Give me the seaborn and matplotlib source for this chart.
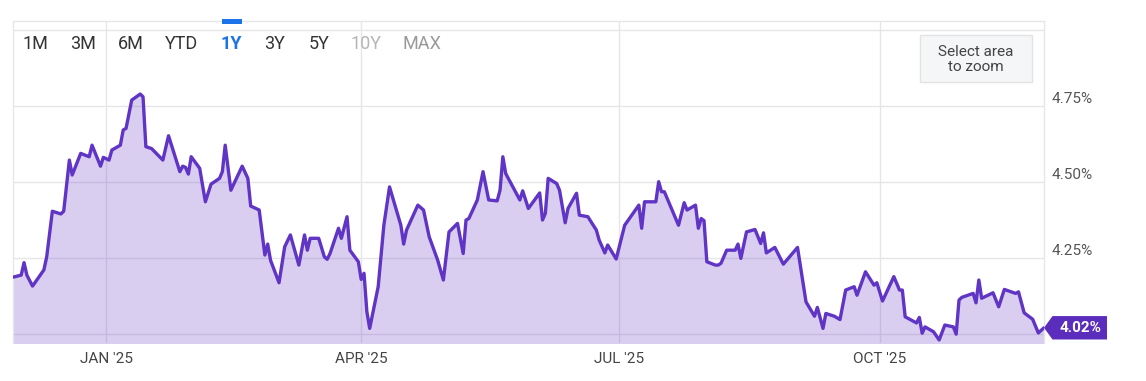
#chart of 10 year yield, 1Y view

import seaborn as sns
from matplotlib import pyplot as plt
import matplotlib.dates as mdates
from matplotlib.patches import Rectangle, FancyBboxPatch, Polygon
from matplotlib.transforms import ScaledTranslation
import pandas as pd

#values
dates = [
    "2024-11-29", "2024-12-02", "2024-12-03", "2024-12-04", "2024-12-06", "2024-12-10",
    "2024-12-11", "2024-12-13", "2024-12-16", "2024-12-17", "2024-12-19", "2024-12-20",
    "2024-12-23", "2024-12-26", "2024-12-27", "2024-12-30", "2024-12-31", "2025-01-02",
    "2025-01-03", "2025-01-06", "2025-01-07", "2025-01-08", "2025-01-10", "2025-01-13",
    "2025-01-14", "2025-01-15", "2025-01-17", "2025-01-21", "2025-01-23", "2025-01-27",
    "2025-01-28", "2025-01-29", "2025-01-30", "2025-01-31", "2025-02-03", "2025-02-05",
    "2025-02-07", "2025-02-10", "2025-02-11", "2025-02-12", "2025-02-14", "2025-02-18",
    "2025-02-20", "2025-02-21", "2025-02-24", "2025-02-26", "2025-02-27", "2025-02-28",
    "2025-03-03", "2025-03-05", "2025-03-07", "2025-03-10", "2025-03-12", "2025-03-13",
    "2025-03-14", "2025-03-17", "2025-03-19", "2025-03-20", "2025-03-21", "2025-03-24",
    "2025-03-25", "2025-03-27", "2025-03-28", "2025-03-31", "2025-04-01", "2025-04-02",
    "2025-04-03", "2025-04-04", "2025-04-07", "2025-04-09", "2025-04-11", "2025-04-15",
    "2025-04-16", "2025-04-17", "2025-04-21", "2025-04-23", "2025-04-25", "2025-04-28",
    "2025-04-30", "2025-05-02", "2025-05-05", "2025-05-07", "2025-05-08", "2025-05-09",
    "2025-05-12", "2025-05-14", "2025-05-16", "2025-05-19", "2025-05-20", "2025-05-21",
    "2025-05-22", "2025-05-27", "2025-05-28", "2025-05-30", "2025-06-03", "2025-06-04",
    "2025-06-05", "2025-06-06", "2025-06-09", "2025-06-10", "2025-06-12", "2025-06-13",
    "2025-06-16", "2025-06-17", "2025-06-20", "2025-06-23", "2025-06-24", "2025-06-26",
    "2025-06-27", "2025-06-30", "2025-07-03", "2025-07-08", "2025-07-09", "2025-07-10",
    "2025-07-14", "2025-07-15", "2025-07-16", "2025-07-17", "2025-07-22", "2025-07-24",
    "2025-07-25", "2025-07-28", "2025-07-29", "2025-07-30", "2025-07-31", "2025-08-01",
    "2025-08-04", "2025-08-05", "2025-08-06", "2025-08-08", "2025-08-11", "2025-08-12",
    "2025-08-13", "2025-08-15", "2025-08-18", "2025-08-20", "2025-08-21", "2025-08-22",
    "2025-08-25", "2025-08-28", "2025-09-02", "2025-09-05", "2025-09-08", "2025-09-09",
    "2025-09-11", "2025-09-12", "2025-09-15", "2025-09-17", "2025-09-19", "2025-09-22",
    "2025-09-23", "2025-09-26", "2025-09-29", "2025-09-30", "2025-10-02", "2025-10-06",
    "2025-10-08", "2025-10-09", "2025-10-10", "2025-10-14", "2025-10-15", "2025-10-16",
    "2025-10-17", "2025-10-20", "2025-10-22", "2025-10-24", "2025-10-27", "2025-10-28",
    "2025-10-29", "2025-10-30", "2025-11-03", "2025-11-04", "2025-11-05", "2025-11-06",
    "2025-11-10", "2025-11-12", "2025-11-14", "2025-11-18", "2025-11-19", "2025-11-21",
    "2025-11-24", "2025-11-26", "2025-11-28",
]
yields = [
    4.186, 4.193, 4.234, 4.193, 4.157, 4.210,
    4.253, 4.403, 4.394, 4.403, 4.571, 4.522,
    4.593, 4.582, 4.620, 4.551, 4.580, 4.571,
    4.604, 4.620, 4.670, 4.675, 4.768, 4.788,
    4.779, 4.615, 4.609, 4.571, 4.651, 4.533,
    4.551, 4.547, 4.525, 4.582, 4.544, 4.434,
    4.492, 4.511, 4.533, 4.620, 4.472, 4.551,
    4.511, 4.420, 4.407, 4.259, 4.295, 4.242,
    4.168, 4.286, 4.325, 4.226, 4.325, 4.275,
    4.314, 4.314, 4.253, 4.245, 4.264, 4.347,
    4.314, 4.385, 4.275, 4.237, 4.179, 4.199,
    4.073, 4.018, 4.155, 4.357, 4.483, 4.357,
    4.295, 4.341, 4.423, 4.407, 4.319, 4.242,
    4.177, 4.335, 4.363, 4.264, 4.374, 4.379,
    4.440, 4.533, 4.440, 4.437, 4.472, 4.582,
    4.527, 4.440, 4.470, 4.412, 4.463, 4.374,
    4.396, 4.511, 4.494, 4.472, 4.365, 4.412,
    4.462, 4.390, 4.385, 4.341, 4.308, 4.266,
    4.292, 4.246, 4.357, 4.423, 4.347, 4.434,
    4.434, 4.500, 4.467, 4.467, 4.357, 4.431,
    4.407, 4.423, 4.347, 4.379, 4.372, 4.237,
    4.226, 4.226, 4.232, 4.275, 4.275, 4.295,
    4.248, 4.335, 4.343, 4.297, 4.332, 4.266,
    4.284, 4.229, 4.284, 4.105, 4.058, 4.087,
    4.018, 4.067, 4.058, 4.047, 4.144, 4.155,
    4.127, 4.204, 4.160, 4.168, 4.108, 4.188,
    4.144, 4.144, 4.056, 4.036, 4.054, 4.002,
    4.023, 4.007, 3.980, 4.029, 4.023, 3.999,
    4.111, 4.120, 4.133, 4.102, 4.177, 4.117,
    4.135, 4.089, 4.146, 4.133, 4.138, 4.069,
    4.048, 4.003, 4.020,
]

ranges = ["1M", "3M", "6M", "YTD", "1Y", "3Y", "5Y", "10Y", "MAX"]
range_x = [35, 83, 131, 182, 231.5, 275, 319, 366, 422]  # button centres, px
range_colors = ["#333333"] * 7 + ["#b5b5b5", "#9a9a9a"]
y_ticks = [4.00, 4.25, 4.50, 4.75, 5.00]
y_labels = ["", "4.25%", "4.50%", "4.75%", ""]
x_ticks = ["2025-01-01", "2025-04-01", "2025-07-01", "2025-10-01"]
x_labels = ["JAN '25", "APR '25", "JUL '25", "OCT '25"]
last_label = "4.02%"

df = pd.DataFrame({"date": pd.to_datetime(dates), "yield": yields})

LINE = "#6034c4"
GRID = "#e6e6e6"
W, H = 1146, 381

sns.set_style("white")
plt.rcParams["font.family"] = ["Roboto", "DejaVu Sans"]

fig = plt.figure(figsize=(W / 100, H / 100), dpi=100)
ax = fig.add_axes([12.7 / W, 1 - 342.7 / H, (1044 - 12.7) / W, (342.7 - 20.7) / H])

#area under the line, then the line itself
ax.fill_between(df["date"], df["yield"], 3.9, color=LINE, alpha=0.24, lw=0, zorder=2)
sns.lineplot(data=df, x="date", y="yield", ax=ax, color=LINE, linewidth=2.4, zorder=3)

ax.set_xlim(df["date"].min(), df["date"].max())
ax.set_ylim(3.971, 5.029)
ax.set_xlabel("")
ax.set_ylabel("")

ax.set_yticks(y_ticks)
ax.set_yticklabels(y_labels)
ax.yaxis.tick_right()
ax.tick_params(axis="y", length=0, pad=5.5, labelsize=11, labelcolor="#555555")
shift = ScaledTranslation(0, 0.078, fig.dpi_scale_trans)
for lab in ax.get_yticklabels():
    lab.set_transform(lab.get_transform() + shift)

ax.set_xticks(pd.to_datetime(x_ticks))
ax.set_xticklabels(x_labels)
ax.tick_params(axis="x", length=0, pad=7, labelsize=11, labelcolor="#444444")

ax.grid(True, color=GRID, lw=1)
ax.set_axisbelow(True)
for side in ["left", "right", "top"]:
    ax.spines[side].set_color(GRID)
    ax.spines[side].set_linewidth(1)
ax.spines["bottom"].set_visible(False)

#range buttons along the top
for name, xc, col in zip(ranges, range_x, range_colors):
    if name == "1Y":
        fig.text(xc / W, 1 - 44 / H, name, ha="center", va="center",
                 fontsize=13, color="#1a73e8", fontweight="bold")
    else:
        fig.text(xc / W, 1 - 44 / H, name, ha="center", va="center",
                 fontsize=13, color=col)
fig.add_artist(Rectangle((222 / W, 1 - 23.5 / H), 19.5 / W, 4 / H,
                         transform=fig.transFigure, color="#1a73e8", lw=0))

#zoom hint box
fig.add_artist(FancyBboxPatch((920 / W, 1 - 81.7 / H), 111.7 / W, 46.7 / H,
                              boxstyle="square,pad=0", transform=fig.transFigure,
                              fc="#f5f6f7", ec="#e3e3e3", lw=1))
fig.text(975.7 / W, 1 - 59.5 / H, "Select area\nto zoom", ha="center", va="center",
         fontsize=11, color="#444444", linespacing=1.1)

#current value tag
last_date = mdates.date2num(df["date"].iloc[-1])
last_val = df["yield"].iloc[-1]
anchor = fig.dpi_scale_trans + ScaledTranslation(last_date, last_val, ax.transData)
tag = Polygon([(0, 0), (0.085, 0.117), (0.63, 0.117), (0.63, -0.117), (0.085, -0.117)],
              closed=True, transform=anchor, fc="#5b2dbd", ec="none", clip_on=False, zorder=5)
ax.add_artist(tag)
ax.annotate(last_label, xy=(df["date"].iloc[-1], last_val), xytext=(26, 0),
            textcoords="offset points", ha="center", va="center", fontsize=11,
            fontweight="bold", color="white", zorder=6, annotation_clip=False)

fig.savefig("out.png", dpi=100)
